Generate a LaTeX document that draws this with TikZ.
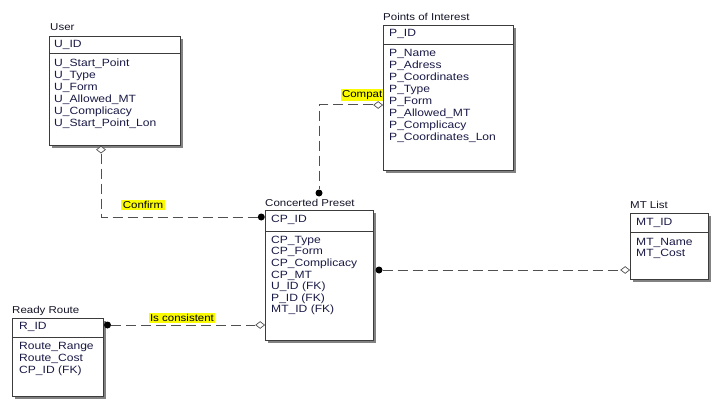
\documentclass[tikz,border=0pt]{standalone}
\usepackage{fontspec}
\setmainfont{Liberation Sans}[FakeStretch=1.15]
\usetikzlibrary{shapes.geometric,shadows}
\definecolor{boxc}{RGB}{60,60,60}
\definecolor{shadc}{RGB}{130,130,130}
\definecolor{linec}{RGB}{80,80,80}
\definecolor{txtc}{RGB}{25,25,70}
\definecolor{ttlc}{RGB}{20,20,40}
\definecolor{hl}{RGB}{250,250,0}
\begin{document}
\begin{tikzpicture}[x=1pt,y=-1pt,
  ent/.style={draw=boxc, fill=white, line width=0.8pt, inner sep=0pt, anchor=north west,
    drop shadow={shadow xshift=3pt, shadow yshift=-3pt, fill=shadc, opacity=1}},
  sep/.style={draw=boxc, line width=0.7pt},
  attr/.style={anchor=west, inner sep=0pt, text=txtc, font=\fontsize{10.5}{12}\selectfont},
  ttl/.style={anchor=west, inner sep=0pt, text=ttlc, font=\fontsize{10}{12}\selectfont},
  lbl/.style={fill=hl, inner sep=1.5pt, text=black, font=\fontsize{10}{12}\selectfont},
  rel/.style={draw=linec, line width=1pt, dash pattern=on 10pt off 5pt},
  fdot/.style={circle, fill=black, inner sep=0pt, minimum size=7pt},
  odia/.style={diamond, draw=linec, fill=white, inner sep=0pt, minimum width=9pt, minimum height=7pt, line width=0.7pt}
]
\useasboundingbox (0,0) rectangle (716,404);
\fill[white] (0,0) rectangle (716,404);

% label partly covered by the Points of Interest box
\node[lbl, anchor=east] (lcomp) at (384,95) {Compat};

% ---- User
\node[ttl] (tuser) at (50,27) {User};
\node[ent, minimum width=131pt, minimum height=109pt] (user) at (49,36) {};
\draw[sep] ([yshift=-17pt]user.north west) -- ([yshift=-17pt]user.north east);
\node[attr] (uid) at (54,45) {U\_ID};
\foreach \t [count=\i] in {U\_Start\_Point,U\_Type,U\_Form,U\_Allowed\_MT,U\_Complicacy,U\_Start\_Point\_Lon}
  \node[attr] (ua\i) at (54,52+12*\i) {\t};

% ---- Points of Interest
\node[ttl] (tpoi) at (383,17) {Points of Interest};
\node[ent, minimum width=130pt, minimum height=145pt] (poi) at (383,25) {};
\draw[sep] ([yshift=-19pt]poi.north west) -- ([yshift=-19pt]poi.north east);
\node[attr] (pid) at (389,34) {P\_ID};
\foreach \t [count=\i] in {P\_Name,P\_Adress,P\_Coordinates,P\_Type,P\_Form,P\_Allowed\_MT,P\_Complicacy,P\_Coordinates\_Lon}
  \node[attr] (pa\i) at (389,42+12*\i) {\t};

% ---- Concerted Preset
\node[ttl] (tcp) at (265,203) {Concerted Preset};
\node[ent, minimum width=108pt, minimum height=130pt] (cp) at (265,210) {};
\draw[sep] ([yshift=-21pt]cp.north west) -- ([yshift=-21pt]cp.north east);
\node[attr] (cpid) at (271,220) {CP\_ID};
\foreach \t [count=\i] in {CP\_Type,CP\_Form,CP\_Complicacy,CP\_MT,U\_ID (FK),P\_ID (FK),MT\_ID (FK)}
  \node[attr] (ca\i) at (271,229+11.6*\i) {\t};

% ---- Ready Route
\node[ttl] (trr) at (12,311) {Ready Route};
\node[ent, minimum width=91pt, minimum height=78pt] (rr) at (12,318) {};
\draw[sep] ([yshift=-19pt]rr.north west) -- ([yshift=-19pt]rr.north east);
\node[attr] (rid) at (19,327) {R\_ID};
\foreach \t [count=\i] in {Route\_Range,Route\_Cost,CP\_ID (FK)}
  \node[attr] (ra\i) at (19,335+12*\i) {\t};

% ---- MT List
\node[ttl] (tmt) at (630,205) {MT List};
\node[ent, minimum width=78pt, minimum height=66pt] (mt) at (630,213) {};
\draw[sep] ([yshift=-19pt]mt.north west) -- ([yshift=-19pt]mt.north east);
\node[attr] (mtid) at (636,223) {MT\_ID};
\foreach \t [count=\i] in {MT\_Name,MT\_Cost}
  \node[attr] (ma\i) at (636,231+11.5*\i) {\t};

% ---- connectors
% User -- Concerted Preset
\node[odia, anchor=north] (m1) at ([xshift=52pt]user.south west) {};
\node[fdot, anchor=east] (m2) at (cp.west |- 0,217) {};
\draw[rel] (m1) |- (m2);
\node[lbl] (lconf) at (143,205) {Confirm};

% Points of Interest -- Concerted Preset
\node[odia, anchor=east] (m3) at (poi.west |- 0,105) {};
\node[fdot] (m4) at (319,193) {};
\draw[rel] (m3) -| (m4);

% Concerted Preset -- MT List
\node[fdot, anchor=west] (m5) at ([xshift=1.5pt]cp.east |- 0,270) {};
\node[odia, anchor=east] (m6) at (mt.west |- 0,270) {};
\draw[rel] (m5) -- (m6);

% Ready Route -- Concerted Preset
\node[fdot, anchor=west] (m7) at ([xshift=0pt]rr.east |- 0,325) {};
\node[odia, anchor=east] (m8) at (cp.west |- 0,325) {};
\draw[rel] (m7) -- (m8);
\node[lbl] (lcons) at (182,318) {Is consistent};
\end{tikzpicture}
\end{document}
